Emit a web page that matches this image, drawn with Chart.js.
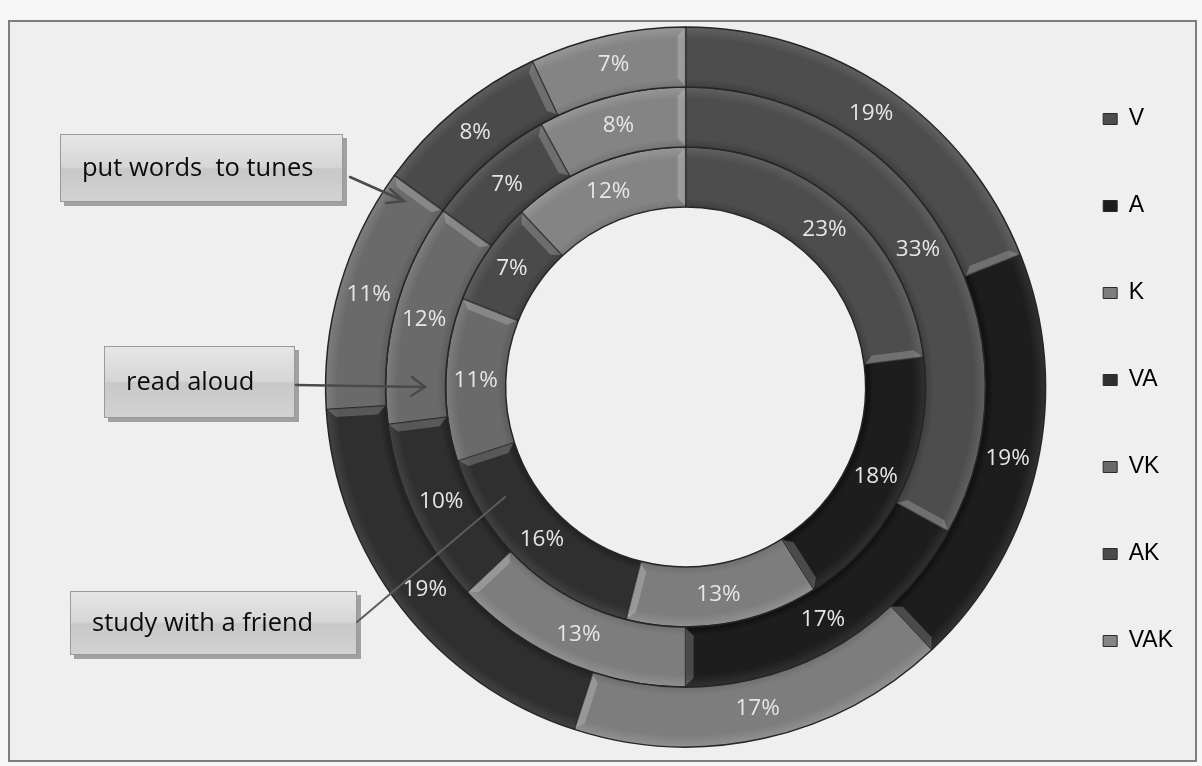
<!DOCTYPE html>
<html>
<head>
<meta charset="utf-8">
<script src="https://cdn.jsdelivr.net/npm/chart.js@4.4.1/dist/chart.umd.min.js"></script>
<style>
  html, body { margin:0; padding:0; background:#f6f6f6; }
  body { width:1202px; height:766px; position:relative; overflow:hidden; font-family:'Open Sans', sans-serif; }
  .frame { position:absolute; left:8px; top:20px; width:1185px; height:738px; border:2px solid #7d7d7d; background:#efefef; }
  .wrap { position:absolute; left:0; top:0; width:1202px; height:766px; }
  .callout { position:absolute; box-sizing:border-box; border:1px solid #9a9a9a;
    background:linear-gradient(#e6e6e6, #d6d6d6 48%, #c8c8c8 52%, #d2d2d2);
    box-shadow:4px 4px 0 #a0a0a0; font-size:25.5px; color:#0c0c0c; display:flex; align-items:center;
    padding:0 0 5px 21px; white-space:pre; }
  svg.arrows { position:absolute; left:0; top:0; }
</style>
</head>
<body>
<div class="frame"></div>
<div class="wrap"><canvas id="rings"></canvas></div>
<div class="callout" style="left:60px;top:134px;width:283px;height:68px">put words  to tunes</div>
<div class="callout" style="left:104px;top:346px;width:191px;height:72px">read aloud</div>
<div class="callout" style="left:70px;top:591px;width:287px;height:64px">study with a friend</div>
<svg class="arrows" width="1202" height="766">
  <g fill="none" stroke="#4a4a4a" stroke-width="2.5" stroke-linecap="round">
    <path d="M350 177 L404 201 M390 189 L404 201 L386 203"/>
    <path d="M296 385 L425 387 M412 377 L425 387 L411 396"/>
    <path d="M357 622 L505 497" stroke="#5c5c5c" stroke-width="2"/>
  </g>
</svg>
<script>
const categories  = ['V', 'A', 'K', 'VA', 'VK', 'AK', 'VAK'];
const wordsToTunes = [19, 19, 17, 19, 11, 8, 7];   // outer ring
const readAloud    = [33, 17, 13, 10, 12, 7, 8];   // middle ring
const studyFriend  = [23, 18, 13, 16, 11, 7, 12];  // inner ring
const ringNames = ['put words  to tunes', 'read aloud', 'study with a friend'];
const greys = ['#4d4d4d', '#1d1d1d', '#7d7d7d', '#2f2f2f', '#6a6a6a', '#4a4a4a', '#848484'];

function tint(hex, amt) {
  const n = parseInt(hex.slice(1), 16);
  const c = [n >> 16, (n >> 8) & 255, n & 255].map(v => Math.max(0, Math.min(255, v + amt)));
  return `rgb(${c[0]},${c[1]},${c[2]})`;
}

// soft radial bevel per ring: darker inner edge, lighter outer edge
function ringShade(c) {
  const base = greys[c.dataIndex];
  const chart = c.chart, area = chart.chartArea;
  const ctrl = chart.getDatasetMeta(c.datasetIndex).controller;
  if (!area || !ctrl || !ctrl.outerRadius) return base;
  const cx = (area.left + area.right) / 2, cy = (area.top + area.bottom) / 2;
  const g = chart.ctx.createRadialGradient(cx, cy, ctrl.innerRadius, cx, cy, ctrl.outerRadius);
  g.addColorStop(0, tint(base, -14));
  g.addColorStop(0.14, base);
  g.addColorStop(0.8, base);
  g.addColorStop(1, tint(base, 20));
  return g;
}

const bevel = {
  id: 'bevel',
  afterDatasetDraw(chart, args) {
    const ctx = chart.ctx;
    ctx.save();
    ctx.fillStyle = 'rgba(255,255,255,0.2)';
    args.meta.data.forEach(arc => {
      const {x, y, endAngle, innerRadius, outerRadius} =
        arc.getProps(['x', 'y', 'endAngle', 'innerRadius', 'outerRadius']);
      const w = 8, r0 = innerRadius + 1, r1 = outerRadius - 1;
      const pt = (r, a) => [x + r * Math.cos(a), y + r * Math.sin(a)];
      const p = [pt(r1, endAngle), pt(r0, endAngle),
                 pt(r0 + w, endAngle - w / (r0 + w)), pt(r1 - w, endAngle - w / (r1 - w))];
      ctx.beginPath();
      ctx.moveTo(p[0][0], p[0][1]);
      p.slice(1).forEach(q => ctx.lineTo(q[0], q[1]));
      ctx.closePath();
      ctx.fill();
    });
    ctx.restore();
  }
};

const pctLabels = {
  id: 'pctLabels',
  afterDatasetsDraw(chart) {
    const ctx = chart.ctx;
    ctx.save();
    ctx.font = '22.5px "Open Sans"';
    ctx.fillStyle = '#e6e6e6';
    ctx.textAlign = 'center';
    ctx.textBaseline = 'middle';
    chart.data.datasets.forEach((ds, di) => {
      chart.getDatasetMeta(di).data.forEach((arc, i) => {
        const p = arc.tooltipPosition();
        ctx.fillText(ds.data[i] + '%', p.x, p.y);
      });
    });
    ctx.restore();
  }
};

const ring = (label, data) => ({
  label, data,
  backgroundColor: ringShade,
  borderColor: '#262626',
  borderWidth: 1.5,
  hoverOffset: 0,
  clip: false
});

new Chart(document.getElementById('rings'), {
  type: 'doughnut',
  data: {
    labels: categories,
    datasets: [
      ring(ringNames[0], wordsToTunes),
      ring(ringNames[1], readAloud),
      ring(ringNames[2], studyFriend)
    ]
  },
  options: {
    responsive: true,
    maintainAspectRatio: false,
    animation: false,
    events: [],
    radius: 360,
    cutout: '50%',
    layout: { padding: { left: 332, right: 19, top: 43.5, bottom: 35.5 } },
    plugins: {
      tooltip: { enabled: false },
      legend: {
        position: 'right',
        align: 'start',
        labels: {
          boxWidth: 14, boxHeight: 11, padding: 64, color: '#111',
          font: { family: '"Liberation Sans", Arial, sans-serif', size: 23 },
          generateLabels: () => categories.map((c, i) => ({
            text: c, fillStyle: greys[i], strokeStyle: '#2a2a2a', lineWidth: 1, index: i, hidden: false
          }))
        }
      }
    }
  },
  plugins: [bevel, pctLabels]
});
</script>
</body>
</html>
